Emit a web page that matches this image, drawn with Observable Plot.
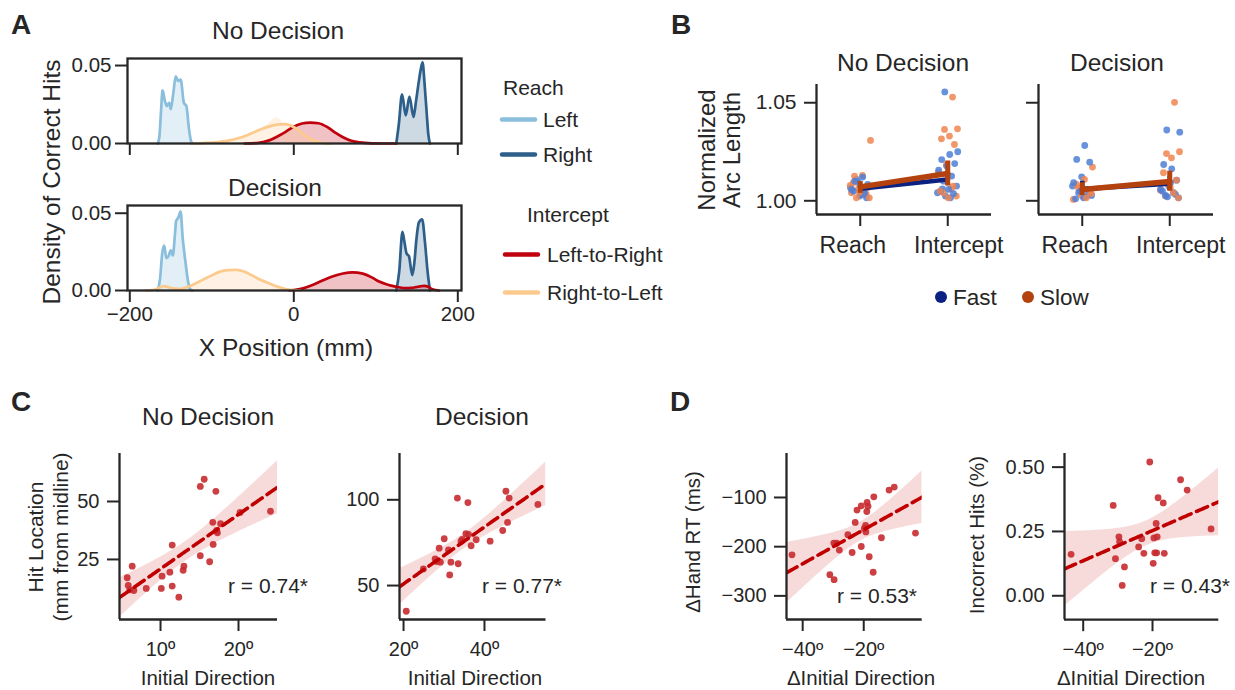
<!DOCTYPE html>
<html><head><meta charset="utf-8">
<script src="https://cdn.jsdelivr.net/npm/d3@7"></script>
<script src="https://cdn.jsdelivr.net/npm/@observablehq/plot@0.6"></script>
<style>
body{margin:0;background:#fff}
#root{position:relative;width:1235px;height:690px;overflow:hidden;background:#fff}
</style>
</head><body><div id="root"></div>
<script>
// ---------------- DATA ----------------
// Panel A: density of correct hits (x position mm, density)
const aNdLeftX  = [-166,-164,-162,-160,-157.5,-155,-152,-150,-147,-144,-141,-138,-134,-131,-128,-125,-123];
const aNdLeftD  = [0,0.004,0.020,0.034,0.028,0.024,0.026,0.022,0.032,0.043,0.040,0.041,0.026,0.024,0.010,0.001,0];
const aNdRightX = [125,128,132,136.5,141,146,149,152.5,155,157,159.5,162,164,166];
const aNdRightD = [0,0.012,0.0315,0.018,0.030,0.017,0.027,0.040,0.048,0.052,0.038,0.020,0.006,0];
const aNdLtrX   = [-60,-45,-30,-20,-10,0,10,20,30,40,50,60,70,80,95,110,125];
const aNdLtrD   = [0,0.0003,0.002,0.0045,0.0075,0.0108,0.0128,0.0134,0.013,0.0108,0.0072,0.0040,0.0018,0.0007,0.0001,0,0];
const aNdRtlX   = [-125,-110,-95,-80,-65,-50,-40,-30,-20,-12,-5,5,15,25,35,45];
const aNdRtlD   = [0,0.0003,0.0008,0.0018,0.0038,0.0069,0.0092,0.011,0.0121,0.0124,0.0118,0.0088,0.0047,0.0018,0.0005,0];
const aDLeftX   = [-166,-163,-160.5,-158,-155.5,-153,-150,-147.5,-145,-143.5,-141,-138,-135.5,-132,-129,-126.5,-124];
const aDLeftD   = [0,0.008,0.024,0.029,0.021,0.022,0.026,0.0225,0.036,0.045,0.047,0.051,0.034,0.018,0.006,0.001,0];
const aDRightX  = [125,128.5,132.5,135,137.5,140.5,144.5,147,149.5,152.5,156.5,160,163,166];
const aDRightD  = [0,0.012,0.038,0.031,0.024,0.022,0.010,0.018,0.033,0.044,0.046,0.031,0.013,0];
const aDLtrX    = [-5,10,22.8,35,47,60,71.5,84,95,104,112,120,128,136.6,143,149,154,159,164,169,177];
const aDLtrD    = [0,0.0012,0.0036,0.0065,0.0091,0.0110,0.0117,0.0109,0.0085,0.0058,0.0042,0.003,0.0021,0.0015,0.0017,0.0022,0.0027,0.003,0.0024,0.0008,0];
const aDRtlX    = [-180,-170,-164,-158,-152,-145,-138,-130,-120,-110,-100,-90,-80,-70,-60,-50,-40,-30,-20,-10,0,8];
const aDRtlD    = [0,0.0005,0.0018,0.0028,0.002,0.0012,0.0011,0.0022,0.0045,0.0072,0.0098,0.0122,0.0132,0.0134,0.0122,0.0095,0.0068,0.0046,0.0025,0.0009,0.0002,0];
const aSeries = ["Left","Right","Left-to-Right","Right-to-Left"];

// Panel B: normalized arc length
const bCats = ["Reach","Intercept"];
const bNdReachFast = [1.0121,1.0100,1.0083,1.0024,1.0058,1.0041,1.0109,1.0075,1.0032,1.0049,1.0015,1.0092,1.0066,1.0053];
const bNdReachSlow = [1.0308,1.0129,1.0126,1.0066,1.0044,1.0041,1.0031,1.0015,1.0015,1.0054,1.0092,1.0032,1.0060,1.0078];
const bNdInterFast = [1.0555,1.0250,1.0236,1.0210,1.0190,1.0177,1.0156,1.0126,1.0100,1.0075,1.0058,1.0049,1.0037,1.0024,1.0041,1.0015,1.0061];
const bNdInterSlow = [1.0529,1.0364,1.0367,1.0330,1.0316,1.0287,1.0185,1.0143,1.0061,1.0041,1.0024,1.0015,1.0049,1.0075];
const bDReachFast  = [1.0282,1.0211,1.0197,1.0122,1.0092,1.0058,1.0041,1.0027,1.0015,1.0010,1.0032,1.0049,1.0075,1.0020];
const bDReachSlow  = [1.0172,1.0109,1.0083,1.0049,1.0027,1.0007,1.0015,1.0066,1.0037];
const bDInterFast  = [1.0361,1.0350,1.0163,1.0185,1.0105,1.0075,1.0058,1.0041,1.0027,1.0015,1.0092,1.0049,1.0032,1.0020];
const bDInterSlow  = [1.0502,1.0241,1.0250,1.0219,1.0143,1.0105,1.0083,1.0054,1.0041,1.0024,1.0015,1.0066];
const bNdFastMean = [1.0061,1.0109], bNdFastLo = [1.0046,1.0082], bNdFastHi = [1.0077,1.0140];
const bNdSlowMean = [1.0071,1.0139], bNdSlowLo = [1.0038,1.0075], bNdSlowHi = [1.0098,1.0203];
const bDFastMean  = [1.0060,1.0087], bDFastLo  = [1.0040,1.0055], bDFastHi  = [1.0100,1.0125];
const bDSlowMean  = [1.0058,1.0098], bDSlowLo  = [1.0027,1.0049], bDSlowHi  = [1.0092,1.0151];

// Panel C: hit location vs initial direction
const cNdDir = [5.73,5.86,6.37,6.07,6.58,8.17,10.2,10.1,11.2,11.5,11.5,12.35,12.9,13.0,15.1,15.1,15.6,16.3,16.75,16.7,17.1,17.3,17.2,17.7,20.2,24.1];
const cNdHit = [17.1,13.8,22.1,11.9,11.6,12.5,17.8,12.5,19.5,31.2,13.5,8.75,20.3,22.1,26.6,56.5,59.6,24.0,31.5,41.0,54.4,36.5,37.5,40.4,45.3,45.8];
const cDDir  = [20.67,24.9,27.8,28.2,28.8,29.1,30.05,31.1,31.4,31.7,33.3,33.5,34.2,34.5,35.4,35.9,36.05,36.7,37.95,41.4,44.5,45.3,45.7,46.1,53.2];
const cDHit  = [35.0,59.7,65.6,64.0,71.8,63.6,77.3,70.8,56.2,63.6,101,62.7,75.9,76.9,80.2,98.4,79.8,73.2,76.7,75.9,82.1,105,86.8,101,97.3];

// Panel D: deltas vs delta initial direction
const dRtDir  = [-43.5,-31.1,-29.7,-29.8,-28.85,-28.0,-25.2,-23.8,-22.8,-22.2,-20.8,-20.8,-19.4,-19.0,-18.9,-18.6,-19.3,-18.2,-16.7,-16.9,-14.2,-11.7,-10.0,-3.05,-19.8];
const dRtVal  = [-216.5,-257,-267,-192.7,-193,-207,-175.8,-211.8,-150.8,-125.6,-116.9,-199.6,-156.9,-128.5,-110,-118,-170,-220.5,-98.6,-252,-181.9,-85,-78.9,-172.4,-163];
const dIncDir = [-43.5,-31.35,-30.7,-29.7,-29.5,-28.75,-28.1,-24.0,-23.1,-22.5,-20.8,-19.8,-19.6,-19.35,-18.95,-18.65,-18.8,-18.4,-16.9,-16.6,-11.9,-10.0,-3.1];
const dIncVal = [0.161,0.351,0.144,0.229,0.21,0.040,0.112,0.190,0.222,0.165,0.520,0.126,0.225,0.167,0.281,0.229,0.167,0.381,0.361,0.165,0.451,0.411,0.260];

// ---------------- STYLE ----------------
const FONT = "'Liberation Sans', Arial, Helvetica, sans-serif";
const INK = "#262626";
const root = document.getElementById("root");
const minus = d => (d < 0 ? "\u2212" : "") + Math.abs(d);
const deg = d => minus(d) + "\u00ba";

function panel({left, top, w, h, x, y, color, marks, mL = 90, mR = 70, mT = 20, mB = 70}) {
  const svg = Plot.plot({
    width: w + mL + mR, height: h + mT + mB,
    marginLeft: mL, marginRight: mR, marginTop: mT, marginBottom: mB,
    x, y, color,
    style: {background: "transparent", overflow: "visible", fontFamily: FONT, color: INK},
    marks
  });
  svg.style.position = "absolute";
  svg.style.left = (left - mL) + "px";
  svg.style.top = (top - mT) + "px";
  root.appendChild(svg);
}

// ---------------- PANEL A ----------------
const aColor = {domain: aSeries, range: ["#89bedc", "#2d5f8a", "#c0000c", "#fdca8e"]};
function kdeRows(list) {
  return list.flatMap(([xs, ds, s]) => xs.map((x, i) => ({x, d: ds[i], s})));
}
const aNdRows = kdeRows([[aNdLeftX, aNdLeftD, "Left"], [aNdRightX, aNdRightD, "Right"], [aNdLtrX, aNdLtrD, "Left-to-Right"], [aNdRtlX, aNdRtlD, "Right-to-Left"]]);
const aDRows  = kdeRows([[aDLeftX, aDLeftD, "Left"], [aDRightX, aDRightD, "Right"], [aDLtrX, aDLtrD, "Left-to-Right"], [aDRtlX, aDRtlD, "Right-to-Left"]]);

function aPanel(rows, top, yMax, showX) {
  panel({
    left: 127, top, w: 334, h: 85,
    x: {domain: [-202.8, 204.5]},
    y: {domain: [0, yMax]},
    color: aColor,
    marks: [
      Plot.areaY(rows, {x: "x", y: "d", z: "s", fill: "s", fillOpacity: 0.24, curve: "monotone-x"}),
      Plot.lineY(rows, {x: "x", y: "d", z: "s", stroke: "s", strokeWidth: 2.7, curve: "monotone-x"}),
      Plot.frame({stroke: INK, strokeWidth: 2.3}),
      Plot.axisY({ticks: [0, 0.05], tickFormat: d3.format(".2f"), tickSize: 12, tickPadding: 4, fontSize: 20.5, strokeWidth: 2, label: null}),
      Plot.axisX({ticks: [-200, 0, 200], tickFormat: showX ? minus : () => "", tickSize: 12, tickPadding: 4, fontSize: 20.5, strokeWidth: 2, label: null})
    ]
  });
}
aPanel(aNdRows, 58, 0.0545, false);
aPanel(aDRows, 205, 0.055, true);

// ---------------- PANEL B ----------------
const jit = (i, k) => ((((i + 1) * 0.6180339887 + k * 0.37) % 1) - 0.5) * 0.24;
function bPoints(arrs) {
  const out = [];
  arrs.forEach(([vals, cat, speed], k) => vals.forEach((v, i) => out.push({xi: bCats.indexOf(cat) + jit(i, k), v, speed})));
  return out.sort((a, b) => (a.v * 1e4 % 7) - (b.v * 1e4 % 7));
}
function bMeans(mean, lo, hi, speed) {
  return bCats.map((c, i) => ({xi: i, m: mean[i], lo: lo[i], hi: hi[i], speed}));
}
const bSpeedPt = {domain: ["Fast", "Slow"], range: ["#4f7fd6", "#ef8550"]};
function bPanel(left, pts, fast, slow, showY) {
  panel({
    left, top: 84, w: 175, h: 130,
    x: {domain: [-0.5, 1.5]},
    y: {domain: [0.99301, 1.0593]},
    color: bSpeedPt,
    marks: [
      Plot.dot(pts, {x: "xi", y: "v", fill: "speed", r: 3.4, fillOpacity: 0.85}),
      Plot.line(fast, {x: "xi", y: "m", stroke: "#0b2283", strokeWidth: 4.5}),
      Plot.ruleX(fast, {x: "xi", y1: "lo", y2: "hi", stroke: "#0b2283", strokeWidth: 4.5}),
      Plot.line(slow, {x: "xi", y: "m", stroke: "#b3420e", strokeWidth: 5.5}),
      Plot.ruleX(slow, {x: "xi", y1: "lo", y2: "hi", stroke: "#b3420e", strokeWidth: 5}),
      Plot.ruleY([0.99301], {stroke: INK, strokeWidth: 2.3}),
      Plot.ruleX([-0.5], {stroke: INK, strokeWidth: 2.3}),
      Plot.axisY({ticks: [1.0, 1.05], tickFormat: showY ? d3.format(".2f") : () => "", tickSize: 12, tickPadding: 8, fontSize: 21, strokeWidth: 2, label: null}),
      Plot.axisX({ticks: [0, 1], tickFormat: () => "", tickSize: 12, strokeWidth: 2, label: null}),
      Plot.axisX({ticks: [0], tickFormat: i => bCats[i], tickSize: 0, tickPadding: 22, dx: -7.5, fontSize: 23, label: null}),
      Plot.axisX({ticks: [1], tickFormat: i => bCats[i], tickSize: 0, tickPadding: 22, dx: 11, fontSize: 23, label: null})
    ]
  });
}
bPanel(816,
  bPoints([[bNdReachFast, "Reach", "Fast"], [bNdReachSlow, "Reach", "Slow"], [bNdInterFast, "Intercept", "Fast"], [bNdInterSlow, "Intercept", "Slow"]]),
  bMeans(bNdFastMean, bNdFastLo, bNdFastHi, "Fast"), bMeans(bNdSlowMean, bNdSlowLo, bNdSlowHi, "Slow"), true);
bPanel(1038,
  bPoints([[bDReachFast, "Reach", "Fast"], [bDReachSlow, "Reach", "Slow"], [bDInterFast, "Intercept", "Fast"], [bDInterSlow, "Intercept", "Slow"]]),
  bMeans(bDFastMean, bDFastLo, bDFastHi, "Fast"), bMeans(bDSlowMean, bDSlowLo, bDSlowHi, "Slow"), false);

// ---------------- PANELS C & D ----------------
function fitBand(xs, ys, dom) {
  const n = xs.length, mx = d3.mean(xs), my = d3.mean(ys);
  const sxx = d3.sum(xs, x => (x - mx) ** 2);
  const sxy = d3.sum(xs, (x, i) => (x - mx) * (ys[i] - my));
  const b = sxy / sxx, a = my - b * mx;
  const s = Math.sqrt(d3.sum(xs, (x, i) => (ys[i] - a - b * x) ** 2) / (n - 2));
  const t = 2.07;
  return d3.range(81).map(i => {
    const x = dom[0] + (dom[1] - dom[0]) * i / 80, yh = a + b * x;
    const se = s * Math.sqrt(1 / n + (x - mx) ** 2 / sxx);
    return {x, y: yh, lo: yh - t * se, hi: yh + t * se};
  });
}
function scatterPanel({left, top, w, h, xs, ys, xDom, yDom, xTicks, yTicks, yFmt}) {
  const pts = xs.map((x, i) => ({x, y: ys[i]}));
  const band = fitBand(xs, ys, xDom);
  panel({
    left, top, w, h,
    x: {domain: xDom}, y: {domain: yDom},
    marks: [
      Plot.areaY(band, {x: "x", y1: "lo", y2: "hi", fill: "#d22b2b", fillOpacity: 0.17, clip: true}),
      Plot.dot(pts, {x: "x", y: "y", fill: "#c62a2f", r: 3.4, fillOpacity: 0.9}),
      Plot.line(band, {x: "x", y: "y", stroke: "#c00000", strokeWidth: 3.6, strokeDasharray: "12,6", clip: true}),
      Plot.ruleY([yDom[0]], {stroke: INK, strokeWidth: 2.3}),
      Plot.ruleX([xDom[0]], {stroke: INK, strokeWidth: 2.3}),
      Plot.axisY({ticks: yTicks, tickFormat: yFmt, tickSize: 12, tickPadding: 8, fontSize: 20, strokeWidth: 2, label: null}),
      Plot.axisX({ticks: xTicks, tickFormat: deg, tickSize: 12, tickPadding: 10, fontSize: 20, strokeWidth: 2, label: null})
    ]
  });
}
scatterPanel({left: 119, top: 453, w: 158, h: 166, xs: cNdDir, ys: cNdHit, xDom: [4.74, 25], yDom: [-0.9, 70.7], xTicks: [10, 20], yTicks: [25, 50], yFmt: minus});
scatterPanel({left: 399, top: 453, w: 146.5, h: 166, xs: cDDir, ys: cDHit, xDom: [19.0, 55.2], yDom: [30.2, 127], xTicks: [20, 40], yTicks: [50, 100], yFmt: minus});
scatterPanel({left: 786, top: 453, w: 135.7, h: 166, xs: dRtDir, ys: dRtVal, xDom: [-45.3, -0.85], yDom: [-348, -10.6], xTicks: [-40, -20], yTicks: [-300, -200, -100], yFmt: minus});
scatterPanel({left: 1064, top: 452.5, w: 154.3, h: 166.2, xs: dIncDir, ys: dIncVal, xDom: [-45.4, -0.87], yDom: [-0.093, 0.553], xTicks: [-40, -20], yTicks: [0, 0.25, 0.5], yFmt: d3.format(".2f")});

// ---------------- TEXT OVERLAY ----------------
const ov = d3.select(root).append("svg")
  .attr("width", 1235).attr("height", 690)
  .style("position", "absolute").style("left", "0px").style("top", "0px")
  .style("font-family", FONT).style("pointer-events", "none");
function txt(s, x, y, {size = 20, anchor = "start", weight = "normal", rotate = false} = {}) {
  const t = ov.append("text").text(s).attr("fill", INK)
    .attr("font-size", size).attr("font-weight", weight).attr("text-anchor", anchor);
  if (rotate) t.attr("transform", `translate(${x},${y}) rotate(-90)`);
  else t.attr("x", x).attr("y", y);
}
// panel letters
txt("A", 11, 34, {size: 28, weight: "bold"});
txt("B", 671, 34, {size: 28, weight: "bold"});
txt("C", 11, 411, {size: 28, weight: "bold"});
txt("D", 670, 411, {size: 28, weight: "bold"});
// panel A
txt("No Decision", 278, 39, {size: 24.5, anchor: "middle"});
txt("Decision", 275, 196, {size: 24.5, anchor: "middle"});
txt("Density of Correct Hits", 60, 182, {size: 24.5, anchor: "middle", rotate: true});
txt("X Position (mm)", 286, 356, {size: 24.5, anchor: "middle"});
// legend A
txt("Reach", 503, 95, {size: 21});
txt("Intercept", 527, 222, {size: 21});
const legA = [["Left", 119.5, 502, 535, 543], ["Right", 154.5, 502, 535, 543], ["Left-to-Right", 254.5, 505, 538, 547], ["Right-to-Left", 292.5, 505, 538, 547]];
legA.forEach(([lab, y, x1, x2, tx]) => {
  ov.append("line").attr("x1", x1).attr("x2", x2).attr("y1", y).attr("y2", y)
    .attr("stroke", aColor.range[aSeries.indexOf(lab)]).attr("stroke-width", 4.5).attr("stroke-linecap", "round");
  txt(lab, tx, y + 7.5, {size: 21});
});
// panel B
txt("No Decision", 903, 71, {size: 24.5, anchor: "middle"});
txt("Decision", 1117, 71, {size: 24.5, anchor: "middle"});
txt("Normalized", 715, 150, {size: 24, anchor: "middle", rotate: true});
txt("Arc Length", 740, 150, {size: 24, anchor: "middle", rotate: true});
ov.append("circle").attr("cx", 941).attr("cy", 297).attr("r", 6).attr("fill", "#0b2283");
txt("Fast", 953, 305, {size: 22.5});
ov.append("circle").attr("cx", 1028).attr("cy", 297).attr("r", 6).attr("fill", "#b3420e");
txt("Slow", 1040, 305, {size: 22.5});
// panel C
txt("No Decision", 208, 425, {size: 24.5, anchor: "middle"});
txt("Decision", 482, 425, {size: 24.5, anchor: "middle"});
txt("Hit Location", 43, 537, {size: 21, anchor: "middle", rotate: true});
txt("(mm from midline)", 67.5, 537, {size: 21, anchor: "middle", rotate: true});
txt("Initial Direction", 208, 685, {size: 20.5, anchor: "middle"});
txt("Initial Direction", 475, 685, {size: 20.5, anchor: "middle"});
txt("r = 0.74*", 308, 593, {size: 21, anchor: "end"});
txt("r = 0.77*", 562, 593, {size: 21, anchor: "end"});
// panel D
txt("\u0394Hand RT (ms)", 700, 542, {size: 20.5, anchor: "middle", rotate: true});
txt("Incorrect Hits (%)", 984, 535, {size: 20.5, anchor: "middle", rotate: true});
txt("\u0394Initial Direction", 861, 685, {size: 20.5, anchor: "middle"});
txt("\u0394Initial Direction", 1131, 685, {size: 20.5, anchor: "middle"});
txt("r = 0.53*", 917, 603, {size: 21, anchor: "end"});
txt("r = 0.43*", 1230, 593, {size: 21, anchor: "end"});
</script>
</body></html>
